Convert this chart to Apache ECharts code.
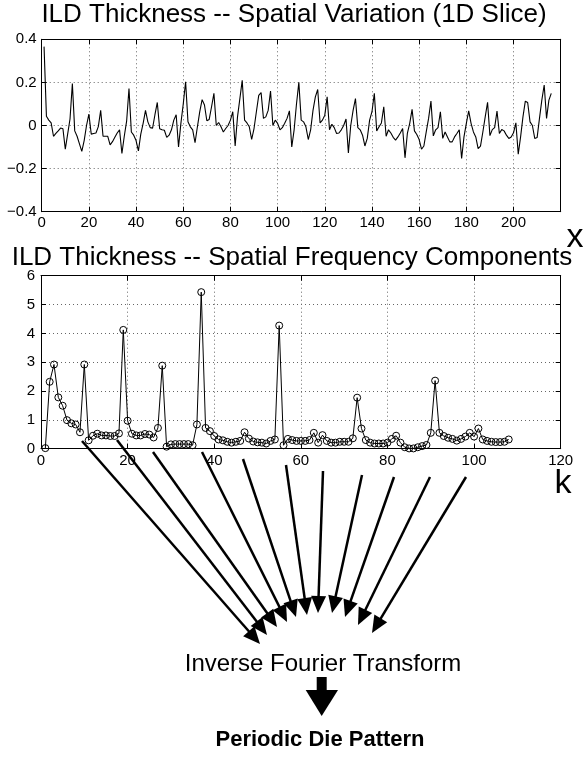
<!DOCTYPE html>
<html>
<head>
<meta charset="utf-8">
<script src="https://cdn.jsdelivr.net/npm/echarts@6/dist/echarts.min.js"></script>
<style>
  html, body { margin: 0; padding: 0; background: #fff; }
  #main { width: 584px; height: 759px; }
</style>
</head>
<body>
<div id="main"></div>
<script>
// ILD thickness along the 1D slice (x = 1..216)
var sliceValues = [
  0.366, 0.043, 0.025, 0.012, -0.05, -0.037, -0.025, -0.012, -0.015, -0.11,
  -0.04, 0.03, 0.195, -0.025, -0.05, -0.085, -0.12, -0.07, 0.0, 0.053,
  -0.04, -0.037, -0.035, -0.005, 0.07, -0.05, -0.05, -0.05, -0.09, -0.075,
  -0.055, -0.035, -0.02, -0.13, -0.05, 0.02, 0.172, -0.03, -0.045, -0.07,
  -0.118, -0.04, 0.01, 0.07, 0.017, -0.01, -0.012, 0.05, 0.107, -0.015,
  -0.02, -0.022, -0.055, -0.045, -0.02, 0.025, 0.05, -0.1, 0.01, 0.1,
  0.203, 0.017, -0.006, -0.02, -0.08, -0.006, 0.064, 0.12, 0.095, 0.022,
  0.028, 0.087, 0.149, 0.0, 0.014, -0.006, -0.03, -0.014, 0.0, 0.025,
  0.064, -0.095, 0.04, 0.125, 0.21, 0.025, 0.012, -0.006, -0.065, -0.014,
  0.064, 0.14, 0.153, 0.033, 0.04, 0.07, 0.16, 0.0, 0.025, 0.01,
  -0.02, -0.01, 0.01, 0.033, 0.068, -0.1, -0.02, 0.1, 0.2, 0.025,
  0.017, -0.006, -0.065, -0.02, 0.07, 0.133, 0.167, 0.012, 0.025, 0.048,
  0.133, -0.02, 0.006, -0.01, -0.037, -0.035, -0.02, 0.0, 0.03, -0.127,
  0.0, 0.07, 0.125, -0.01, -0.02, -0.045, -0.095, -0.06, 0.025, 0.064,
  0.149, -0.025, -0.006, 0.012, 0.087, -0.05, -0.02, -0.035, -0.055, -0.068,
  -0.053, -0.035, -0.014, -0.15, -0.037, 0.01, 0.075, -0.025, -0.042, -0.065,
  -0.11, -0.095, -0.03, 0.033, 0.113, -0.048, -0.02, -0.01, 0.064, -0.06,
  -0.03, -0.053, -0.076, -0.076, -0.053, -0.037, -0.02, -0.153, -0.053, 0.01,
  0.068, 0.01, -0.03, -0.053, -0.107, -0.096, -0.03, 0.04, 0.108, -0.047,
  -0.019, -0.01, 0.067, -0.037, -0.019, -0.025, -0.045, -0.06, -0.053, -0.034,
  0.012, -0.133, -0.053, 0.04, 0.113, 0.107, 0.017, 0.0, -0.06, -0.056,
  0.033, 0.118, 0.188, 0.033, 0.118, 0.149
];

// spatial frequency magnitudes (k = 1..108)
var freqValues = [
  0.02, 2.32, 2.92, 1.78, 1.49, 0.99, 0.88, 0.84, 0.57, 2.92,
  0.29, 0.45, 0.52, 0.46, 0.46, 0.44, 0.44, 0.53, 4.12, 0.97,
  0.52, 0.46, 0.46, 0.51, 0.49, 0.39, 0.72, 2.88, 0.07, 0.15,
  0.16, 0.16, 0.16, 0.16, 0.12, 0.84, 5.43, 0.72, 0.61, 0.44,
  0.32, 0.29, 0.24, 0.21, 0.24, 0.27, 0.57, 0.35, 0.25, 0.22,
  0.21, 0.18, 0.27, 0.32, 4.27, 0.12, 0.34, 0.3, 0.27, 0.27,
  0.27, 0.3, 0.55, 0.21, 0.47, 0.27, 0.21, 0.21, 0.24, 0.24,
  0.24, 0.36, 1.77, 0.7, 0.3, 0.21, 0.18, 0.18, 0.18, 0.21,
  0.34, 0.45, 0.21, 0.05, 0.01, 0.01, 0.05, 0.09, 0.13, 0.55,
  2.36, 0.55, 0.44, 0.38, 0.34, 0.28, 0.34, 0.42, 0.55, 0.42,
  0.7, 0.32, 0.27, 0.24, 0.23, 0.23, 0.24, 0.32
];

// arrows from the spectrum down to the transform (start x,y -> tip x,y)
var arrowPaths = [
  [82, 441, 260, 644],
  [117, 440, 267, 635],
  [153, 452, 277, 627],
  [202, 452, 287, 622],
  [243, 459, 296, 617],
  [286, 465, 307, 615],
  [323, 471, 318, 613],
  [362, 475, 332, 613],
  [394, 477, 345, 617],
  [430, 477, 358, 625],
  [466, 477, 372, 633]
];

var myChart = echarts.init(document.getElementById('main'));
var fontFam = 'Liberation Sans, Arial, Helvetica, sans-serif';

function minusFmt(v) {
  return v < 0 ? '\u2212' + Math.abs(v) : String(v);
}

var gridLine = { show: true, lineStyle: { color: '#666', type: [1, 3], width: 1 } };
var blackLine = { show: true, onZero: false, lineStyle: { color: '#000', width: 1 } };
var inTick = { show: true, inside: true, length: 5, lineStyle: { color: '#000' } };
var lbl = { color: '#000', fontSize: 15, fontFamily: fontFam };

// arrow graphics
var arrowEls = [];
arrowPaths.forEach(function (a) {
  var dx = a[2] - a[0], dy = a[3] - a[1];
  var len = Math.sqrt(dx * dx + dy * dy);
  var ux = dx / len, uy = dy / len;
  var hl = 17, hw = 7.5;
  var bx = a[2] - ux * hl, by = a[3] - uy * hl;
  arrowEls.push({
    type: 'line', z: 100,
    shape: { x1: a[0], y1: a[1], x2: bx + ux * 2, y2: by + uy * 2 },
    style: { stroke: '#000', lineWidth: 2.5 }
  });
  arrowEls.push({
    type: 'polygon', z: 100,
    shape: { points: [[a[2], a[3]], [bx - uy * hw, by + ux * hw], [bx + uy * hw, by - ux * hw]] },
    style: { fill: '#000' }
  });
});

var option = {
  animation: false,
  backgroundColor: '#fff',
  grid: [
    { left: 41.7, top: 39.3, width: 519, height: 172.4 },
    { left: 41, top: 275.7, width: 519.7, height: 173 }
  ],
  xAxis: [
    {
      type: 'value', gridIndex: 0, min: 0, max: 220, interval: 20,
      axisLine: blackLine, axisTick: inTick, splitLine: gridLine,
      axisLabel: Object.assign({ margin: 4, showMaxLabel: false }, lbl)
    },
    {
      type: 'value', gridIndex: 0, position: 'top', min: 0, max: 220, interval: 20,
      axisLine: blackLine, axisTick: inTick, splitLine: { show: false }, axisLabel: { show: false }
    },
    {
      type: 'value', gridIndex: 1, min: 0, max: 120, interval: 20,
      axisLine: blackLine, axisTick: inTick, splitLine: gridLine,
      axisLabel: Object.assign({ margin: 5 }, lbl)
    },
    {
      type: 'value', gridIndex: 1, position: 'top', min: 0, max: 120, interval: 20,
      axisLine: blackLine, axisTick: inTick, splitLine: { show: false }, axisLabel: { show: false }
    }
  ],
  yAxis: [
    {
      type: 'value', gridIndex: 0, min: -0.4, max: 0.4, interval: 0.2,
      axisLine: blackLine, axisTick: inTick, splitLine: gridLine,
      axisLabel: Object.assign({ margin: 5, formatter: minusFmt }, lbl)
    },
    {
      type: 'value', gridIndex: 0, position: 'right', min: -0.4, max: 0.4, interval: 0.2,
      axisLine: blackLine, axisTick: inTick, splitLine: { show: false }, axisLabel: { show: false }
    },
    {
      type: 'value', gridIndex: 1, min: 0, max: 6, interval: 1,
      axisLine: blackLine, axisTick: inTick, splitLine: gridLine,
      axisLabel: Object.assign({ margin: 6 }, lbl)
    },
    {
      type: 'value', gridIndex: 1, position: 'right', min: 0, max: 6, interval: 1,
      axisLine: blackLine, axisTick: inTick, splitLine: { show: false }, axisLabel: { show: false }
    }
  ],
  series: [
    {
      type: 'line', xAxisIndex: 0, yAxisIndex: 0,
      data: sliceValues.map(function (v, i) { return [i + 1, v]; }),
      symbol: 'none', lineStyle: { color: '#000', width: 1.1 }
    },
    {
      type: 'line', xAxisIndex: 2, yAxisIndex: 2,
      data: freqValues.map(function (v, i) { return [i + 1, v]; }),
      symbol: 'circle', symbolSize: 7,
      itemStyle: { color: 'rgba(0,0,0,0)', borderColor: '#000', borderWidth: 1 },
      lineStyle: { color: '#000', width: 1 }
    }
  ],
  graphic: [
    { type: 'text', style: { text: 'ILD Thickness -- Spatial Variation (1D Slice)', x: 294, y: 15, textAlign: 'center', textVerticalAlign: 'middle', font: '26px ' + fontFam, fill: '#000' } },
    { type: 'text', style: { text: 'ILD Thickness -- Spatial Frequency Components', x: 292, y: 258, textAlign: 'center', textVerticalAlign: 'middle', font: '26px ' + fontFam, fill: '#000' } },
    { type: 'text', style: { text: 'x', x: 575, y: 238, textAlign: 'center', textVerticalAlign: 'middle', font: '34px ' + fontFam, fill: '#000' } },
    { type: 'text', style: { text: 'k', x: 563, y: 484, textAlign: 'center', textVerticalAlign: 'middle', font: '34px ' + fontFam, fill: '#000' } },
    { type: 'text', style: { text: 'Inverse Fourier Transform', x: 323, y: 664, textAlign: 'center', textVerticalAlign: 'middle', font: '24px ' + fontFam, fill: '#000' } },
    { type: 'rect', shape: { x: 316.7, y: 677, width: 10, height: 14 }, style: { fill: '#000' } },
    { type: 'polygon', shape: { points: [[305.7, 690], [338, 690], [321.7, 716]] }, style: { fill: '#000' } },
    { type: 'text', style: { text: 'Periodic Die Pattern', x: 320, y: 740, textAlign: 'center', textVerticalAlign: 'middle', font: 'bold 22px ' + fontFam, fill: '#000' } }
  ].concat(arrowEls)
};
myChart.setOption(option);
</script>
</body>
</html>
